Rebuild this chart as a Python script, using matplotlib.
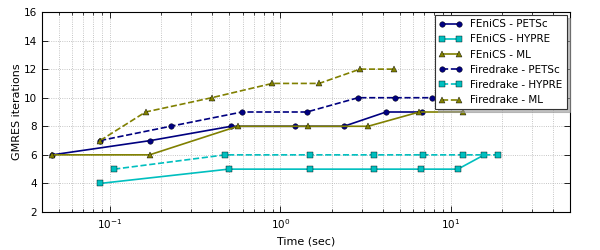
import matplotlib
matplotlib.use("Agg")
import matplotlib.pyplot as plt

# 読み取ったデータ (時間[sec], GMRES反復回数)
fenics_petsc_t = [0.046, 0.173, 0.515, 1.22, 2.36, 4.17, 6.77]
fenics_petsc_it = [6, 7, 8, 8, 8, 9, 9]
fenics_hypre_t = [0.0877, 0.497, 1.49, 3.53, 6.67, 11.0, 15.7]
fenics_hypre_it = [4, 5, 5, 5, 5, 5, 6]
fenics_ml_t = [0.046, 0.171, 0.562, 1.46, 3.27, 6.53, 11.8]
fenics_ml_it = [6, 6, 8, 8, 8, 9, 9]

fd_petsc_t = [0.0877, 0.227, 0.596, 1.43, 2.86, 4.71, 7.76]
fd_petsc_it = [7, 8, 9, 9, 10, 10, 10]
fd_hypre_t = [0.106, 0.474, 1.49, 3.55, 6.83, 11.8, 18.8]
fd_hypre_it = [5, 6, 6, 6, 6, 6, 6]
fd_ml_t = [0.0877, 0.162, 0.396, 0.897, 1.69, 2.93, 4.66]
fd_ml_it = [7, 9, 10, 11, 11, 12, 12]

navy = "#000080"
cyan = "#00bfbf"
olive = "#808000"

plt.rcParams["font.family"] = "DejaVu Sans"
plt.rcParams["font.size"] = 7.5
plt.rcParams["xtick.direction"] = "in"
plt.rcParams["ytick.direction"] = "in"

fig = plt.figure(figsize=(6, 2.5), dpi=100)
ax = fig.add_axes([0.07, 0.152, 0.88, 0.8])

kw = dict(lw=1.2, ms=4, mec="k", mew=0.3)
ax.plot(fenics_petsc_t, fenics_petsc_it, "-o", c=navy, mfc=navy, label="FEniCS - PETSc", **kw)
ax.plot(fenics_hypre_t, fenics_hypre_it, "-s", c=cyan, mfc=cyan, label="FEniCS - HYPRE", **kw)
ax.plot(fenics_ml_t, fenics_ml_it, "-^", c=olive, mfc=olive, label="FEniCS - ML", **kw)
ax.plot(fd_petsc_t, fd_petsc_it, "--o", c=navy, mfc=navy, label="Firedrake - PETSc", **kw)
ax.plot(fd_hypre_t, fd_hypre_it, "--s", c=cyan, mfc=cyan, label="Firedrake - HYPRE", **kw)
ax.plot(fd_ml_t, fd_ml_it, "--^", c=olive, mfc=olive, label="Firedrake - ML", **kw)

ax.set_xscale("log")
ax.set_xlim(0.04, 50)
ax.set_ylim(2, 16)
ax.set_yticks(range(2, 17, 2))
ax.grid(True, which="both", ls=":", c="0.7", lw=0.6)
ax.set_axisbelow(True)
ax.tick_params(which="both", top=True, right=True)
ax.tick_params(which="major", length=4, width=0.6)
ax.tick_params(which="minor", length=2, width=0.5)
ax.set_xlabel("Time (sec)", fontsize=8)
ax.set_ylabel("GMRES iterations", fontsize=8, labelpad=1)

leg = ax.legend(loc="upper right", fancybox=False, framealpha=1, numpoints=2,
                shadow={"color": "0.6", "alpha": 0.6},
                edgecolor="0.2", handlelength=2.2, borderaxespad=0.3)
leg.get_frame().set_linewidth(0.8)

fig.savefig("out.png")
